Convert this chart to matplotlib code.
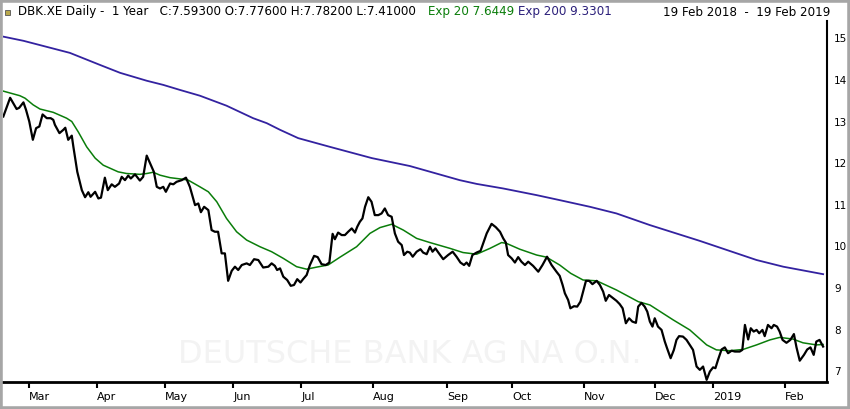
import matplotlib
matplotlib.use("Agg")
import matplotlib.pyplot as plt
from matplotlib.patches import Rectangle

# trading-day position (0 = 19 Feb 2018) and close price
close_day = [0.1, 2.2, 4.2, 5.0, 6.3, 7.1, 8.1, 9.2, 10.2, 11.2, 12.2, 13.5, 14.7, 15.5, 16.0,
             17.4, 18.6, 19.2, 20.1, 21.2, 21.7, 22.9, 24.3, 25.3, 26.3, 27.0, 28.4, 29.4, 30.2,
             31.4, 32.3, 33.5, 34.5, 35.8, 36.6, 37.6, 38.6, 39.4, 40.7, 42.2, 43.2, 44.3, 45.3,
             46.5, 47.4, 48.4, 49.4, 50.2, 51.5, 52.5, 53.5, 55.1, 56.4, 57.6, 59.2, 60.2, 61.0,
             62.0, 63.3, 64.3, 65.3, 66.3, 67.4, 68.4, 69.4, 70.5, 71.5, 72.5, 73.6, 75.1, 76.1,
             77.4, 78.7, 80.2, 81.8, 82.8, 83.8, 84.5, 85.4, 86.4, 87.6, 88.7, 89.7, 90.7, 91.7,
             92.5, 93.6, 94.6, 95.9, 97.0, 98.2, 99.5, 100.6, 101.6, 102.3, 103.3, 104.4, 105.4,
             106.4, 107.5, 108.5, 109.2, 110.0, 110.8, 111.6, 112.6, 113.6, 114.6, 115.7, 116.7,
             117.7, 118.7, 119.8, 120.8, 121.8, 122.9, 123.6, 124.6, 125.4, 126.3, 127.5, 128.7,
             129.5, 130.6, 131.6, 132.4, 133.3, 134.2, 135.7, 137.2, 138.6, 139.8, 141.0, 142.1,
             142.9, 143.7, 144.7, 146.0, 147.2, 148.0, 149.1, 150.6, 151.9, 153.2, 154.2, 155.0,
             155.7, 156.8, 157.8, 158.8, 159.8, 160.9, 161.9, 163.4, 165.0, 166.3, 167.7, 169.1,
             170.6, 171.6, 172.5, 173.2, 174.2, 174.9, 176.0, 177.0, 178.0, 178.8, 179.7, 180.7,
             181.7, 183.0, 184.0, 185.0, 185.8, 186.8, 188.1, 189.1, 190.1, 191.0, 192.0, 193.0,
             194.0, 195.1, 195.8, 196.8, 197.8, 198.6, 199.4, 200.2, 200.9, 201.9, 203.0, 204.0,
             204.7, 205.8, 206.8, 207.6, 208.4, 209.6, 210.7, 211.7, 212.7, 213.8, 214.8, 215.8,
             216.9, 217.9, 218.9, 219.6, 220.4, 221.5, 222.5, 223.5, 224.6, 225.6, 227.1, 227.9,
             228.7, 229.7, 230.5, 231.4, 232.3, 233.1, 234.1, 234.8, 235.8, 236.9, 237.6, 238.6,
             239.4, 240.3, 241.5, 242.7, 243.8, 244.6, 245.6, 246.9, 247.9, 248.9, 249.9, 250.7,
             251.7, 252.8]
close = [13.12, 13.57, 13.30, 13.33, 13.46, 13.28, 13.00, 12.56, 12.84, 12.88, 13.17, 13.08, 13.08, 13.04, 12.92,
         12.72, 12.80, 12.85, 12.56, 12.66, 12.39, 11.79, 11.35, 11.18, 11.30, 11.19, 11.31, 11.15, 11.17,
         11.65, 11.35, 11.49, 11.43, 11.51, 11.67, 11.59, 11.70, 11.63, 11.73, 11.58, 11.67, 12.18, 12.00,
         11.79, 11.43, 11.39, 11.43, 11.31, 11.51, 11.49, 11.55, 11.59, 11.65, 11.43, 10.99, 11.03, 10.82,
         10.95, 10.87, 10.39, 10.35, 10.35, 9.83, 9.83, 9.17, 9.41, 9.51, 9.43, 9.55, 9.59, 9.55,
         9.69, 9.67, 9.49, 9.51, 9.59, 9.53, 9.43, 9.47, 9.27, 9.19, 9.05, 9.07, 9.21, 9.13,
         9.21, 9.31, 9.55, 9.77, 9.74, 9.57, 9.55, 9.61, 10.30, 10.17, 10.33, 10.27, 10.27,
         10.35, 10.43, 10.33, 10.47, 10.59, 10.67, 10.95, 11.18, 11.07, 10.75, 10.75, 10.79,
         10.91, 10.75, 10.71, 10.31, 10.11, 10.03, 9.79, 9.87, 9.85, 9.75, 9.87, 9.93,
         9.85, 9.81, 9.99, 9.87, 9.95, 9.85, 9.69, 9.79, 9.87, 9.75, 9.61, 9.55,
         9.61, 9.53, 9.79, 9.85, 9.89, 10.07, 10.31, 10.54, 10.46, 10.35, 10.19, 10.09,
         9.79, 9.71, 9.61, 9.74, 9.63, 9.55, 9.63, 9.53, 9.39, 9.55, 9.75, 9.55,
         9.39, 9.29, 9.07, 8.87, 8.71, 8.51, 8.56, 8.55, 8.67, 8.91, 9.17, 9.17,
         9.09, 9.17, 9.07, 8.91, 8.69, 8.83, 8.75, 8.69, 8.61, 8.51, 8.15, 8.27,
         8.19, 8.16, 8.55, 8.64, 8.55, 8.43, 8.19, 8.07, 8.27, 8.07, 7.99, 7.71,
         7.55, 7.31, 7.51, 7.75, 7.84, 7.83, 7.75, 7.63, 7.51, 7.11, 7.03, 7.11,
         6.79, 6.99, 7.09, 7.07, 7.27, 7.52, 7.57, 7.43, 7.49, 7.47, 7.47, 7.51,
         8.11, 7.76, 8.03, 7.95, 7.99, 7.91, 7.99, 7.84, 8.11, 8.03, 8.11, 8.07,
         7.95, 7.75, 7.68, 7.75, 7.89, 7.57, 7.25, 7.39, 7.52, 7.57, 7.39, 7.71,
         7.75, 7.59]

# Exp 20 (green)
ema20_day = [0.1, 5.2, 6.8, 9.3, 11.4, 15.5, 19.6, 21.2, 23.2, 25.8, 28.4, 30.9, 35.5, 38.1, 42.2,
             44.3, 46.3, 48.4, 51.5, 55.6, 57.1, 60.7, 63.3, 65.9, 68.9, 72.0, 75.1, 79.2, 82.8,
             86.4, 90.5, 93.6, 96.7, 100.2, 103.9, 109.0, 113.1, 116.2, 119.8, 123.4, 127.5, 131.6,
             137.8, 141.8, 146.0, 150.1, 153.7, 155.2, 159.3, 164.5, 167.5, 171.6, 175.0, 178.8,
             183.0, 189.1, 195.8, 199.4, 206.6, 211.7, 216.9, 219.9, 224.0, 228.1, 232.3, 236.4,
             239.4, 243.5, 246.6, 250.7, 252.8]
ema20 = [13.73, 13.62, 13.56, 13.40, 13.30, 13.22, 13.08, 13.00, 12.75, 12.39, 12.12, 11.95, 11.79, 11.75, 11.73,
         11.75, 11.78, 11.71, 11.65, 11.61, 11.59, 11.43, 11.31, 11.07, 10.67, 10.35, 10.15, 9.99, 9.87,
         9.71, 9.51, 9.45, 9.50, 9.55, 9.74, 9.99, 10.31, 10.45, 10.53, 10.39, 10.19, 10.09,
         9.95, 9.85, 9.81, 9.95, 10.09, 10.07, 9.93, 9.79, 9.74, 9.55, 9.35, 9.19,
         9.17, 8.95, 8.67, 8.59, 8.23, 7.99, 7.63, 7.51, 7.49, 7.52, 7.63, 7.75,
         7.81, 7.77, 7.68, 7.63, 7.64]

# Exp 200 (blue)
ema200_day = [0.1, 6.3, 20.6, 29.9, 36.1, 44.3, 49.4, 54.5, 60.7, 68.9, 77.1, 81.3, 85.4, 91.0,
              100.8, 113.7, 125.4, 140.8, 146.0, 154.2, 164.5, 171.6, 180.9, 189.1, 199.4, 214.8,
              232.3, 240.5, 252.8]
ema200 = [15.04, 14.94, 14.65, 14.36, 14.17, 13.98, 13.88, 13.76, 13.62, 13.38, 13.08, 12.96, 12.80, 12.60,
          12.39, 12.12, 11.93, 11.59, 11.50, 11.39, 11.23, 11.11, 10.95, 10.79, 10.51, 10.13,
          9.67, 9.51, 9.33]

month_day = [8, 29, 50, 71, 92, 114, 137, 157, 179, 201, 219, 241]
month_lbl = ["Mar", "Apr", "May", "Jun", "Jul", "Aug", "Sep", "Oct", "Nov", "Dec", "2019", "Feb"]
price_ticks = [7, 8, 9, 10, 11, 12, 13, 14, 15]

fig = plt.figure(figsize=(8.5, 4.09), dpi=100)
W, H = 850, 409
ax = fig.add_axes([3 / W, 27 / H, 824 / W, 361 / H])

ax.plot(ema200_day, ema200, color="#3322a0", lw=1.3)
ax.plot(ema20_day, ema20, color="#0a7d0a", lw=1.1)
ax.plot(close_day, close, color="black", lw=1.6)

# faint watermark
ax.text(125.4, 7.40, "DEUTSCHE BANK AG NA O.N.", fontsize=23,
        color="#f3f3f3", ha="center", va="center", zorder=0)

ax.set_xlim(0, 254)
ax.set_ylim(6.738, 15.416)

for s in ("left", "top"):
    ax.spines[s].set_visible(False)
ax.spines["bottom"].set_linewidth(2)
ax.spines["right"].set_linewidth(1.5)

ax.yaxis.tick_right()
ax.set_yticks(price_ticks)
ax.set_yticklabels([str(v) for v in price_ticks], fontsize=7.5)
ax.tick_params(axis="y", length=0, pad=5)

ax.set_xticks(month_day)
ax.set_xticklabels(month_lbl, fontsize=8)
ax.tick_params(axis="x", length=4, width=1.5, pad=3, direction="out")
for lab in ax.get_xticklabels():
    lab.set_horizontalalignment("left")

# header line
ty = 1 - 12 / H
hs = 8.6
fig.text(18 / W, ty, "DBK.XE Daily -  1 Year   C:7.59300 O:7.77600 H:7.78200 L:7.41000",
         fontsize=hs, va="center", ha="left")
fig.text(428 / W, ty, "Exp 20 7.6449", fontsize=hs, color="#0a7d0a", va="center")
fig.text(518 / W, ty, "Exp 200 9.3301", fontsize=hs, color="#2b1f7a", va="center")
fig.text(663 / W, ty, "19 Feb 2018  -  19 Feb 2019", fontsize=hs, va="center")

fig.patches.append(Rectangle((5 / W, 1 - 15 / H), 5 / W, 5 / H, transform=fig.transFigure,
                             facecolor="#b9a84c", edgecolor="#555555", lw=0.6))
fig.patches.append(Rectangle((0, 0), 1, 1, transform=fig.transFigure, fill=False,
                             edgecolor="#a6a6a6", lw=4))

fig.savefig("out.png", dpi=100)
